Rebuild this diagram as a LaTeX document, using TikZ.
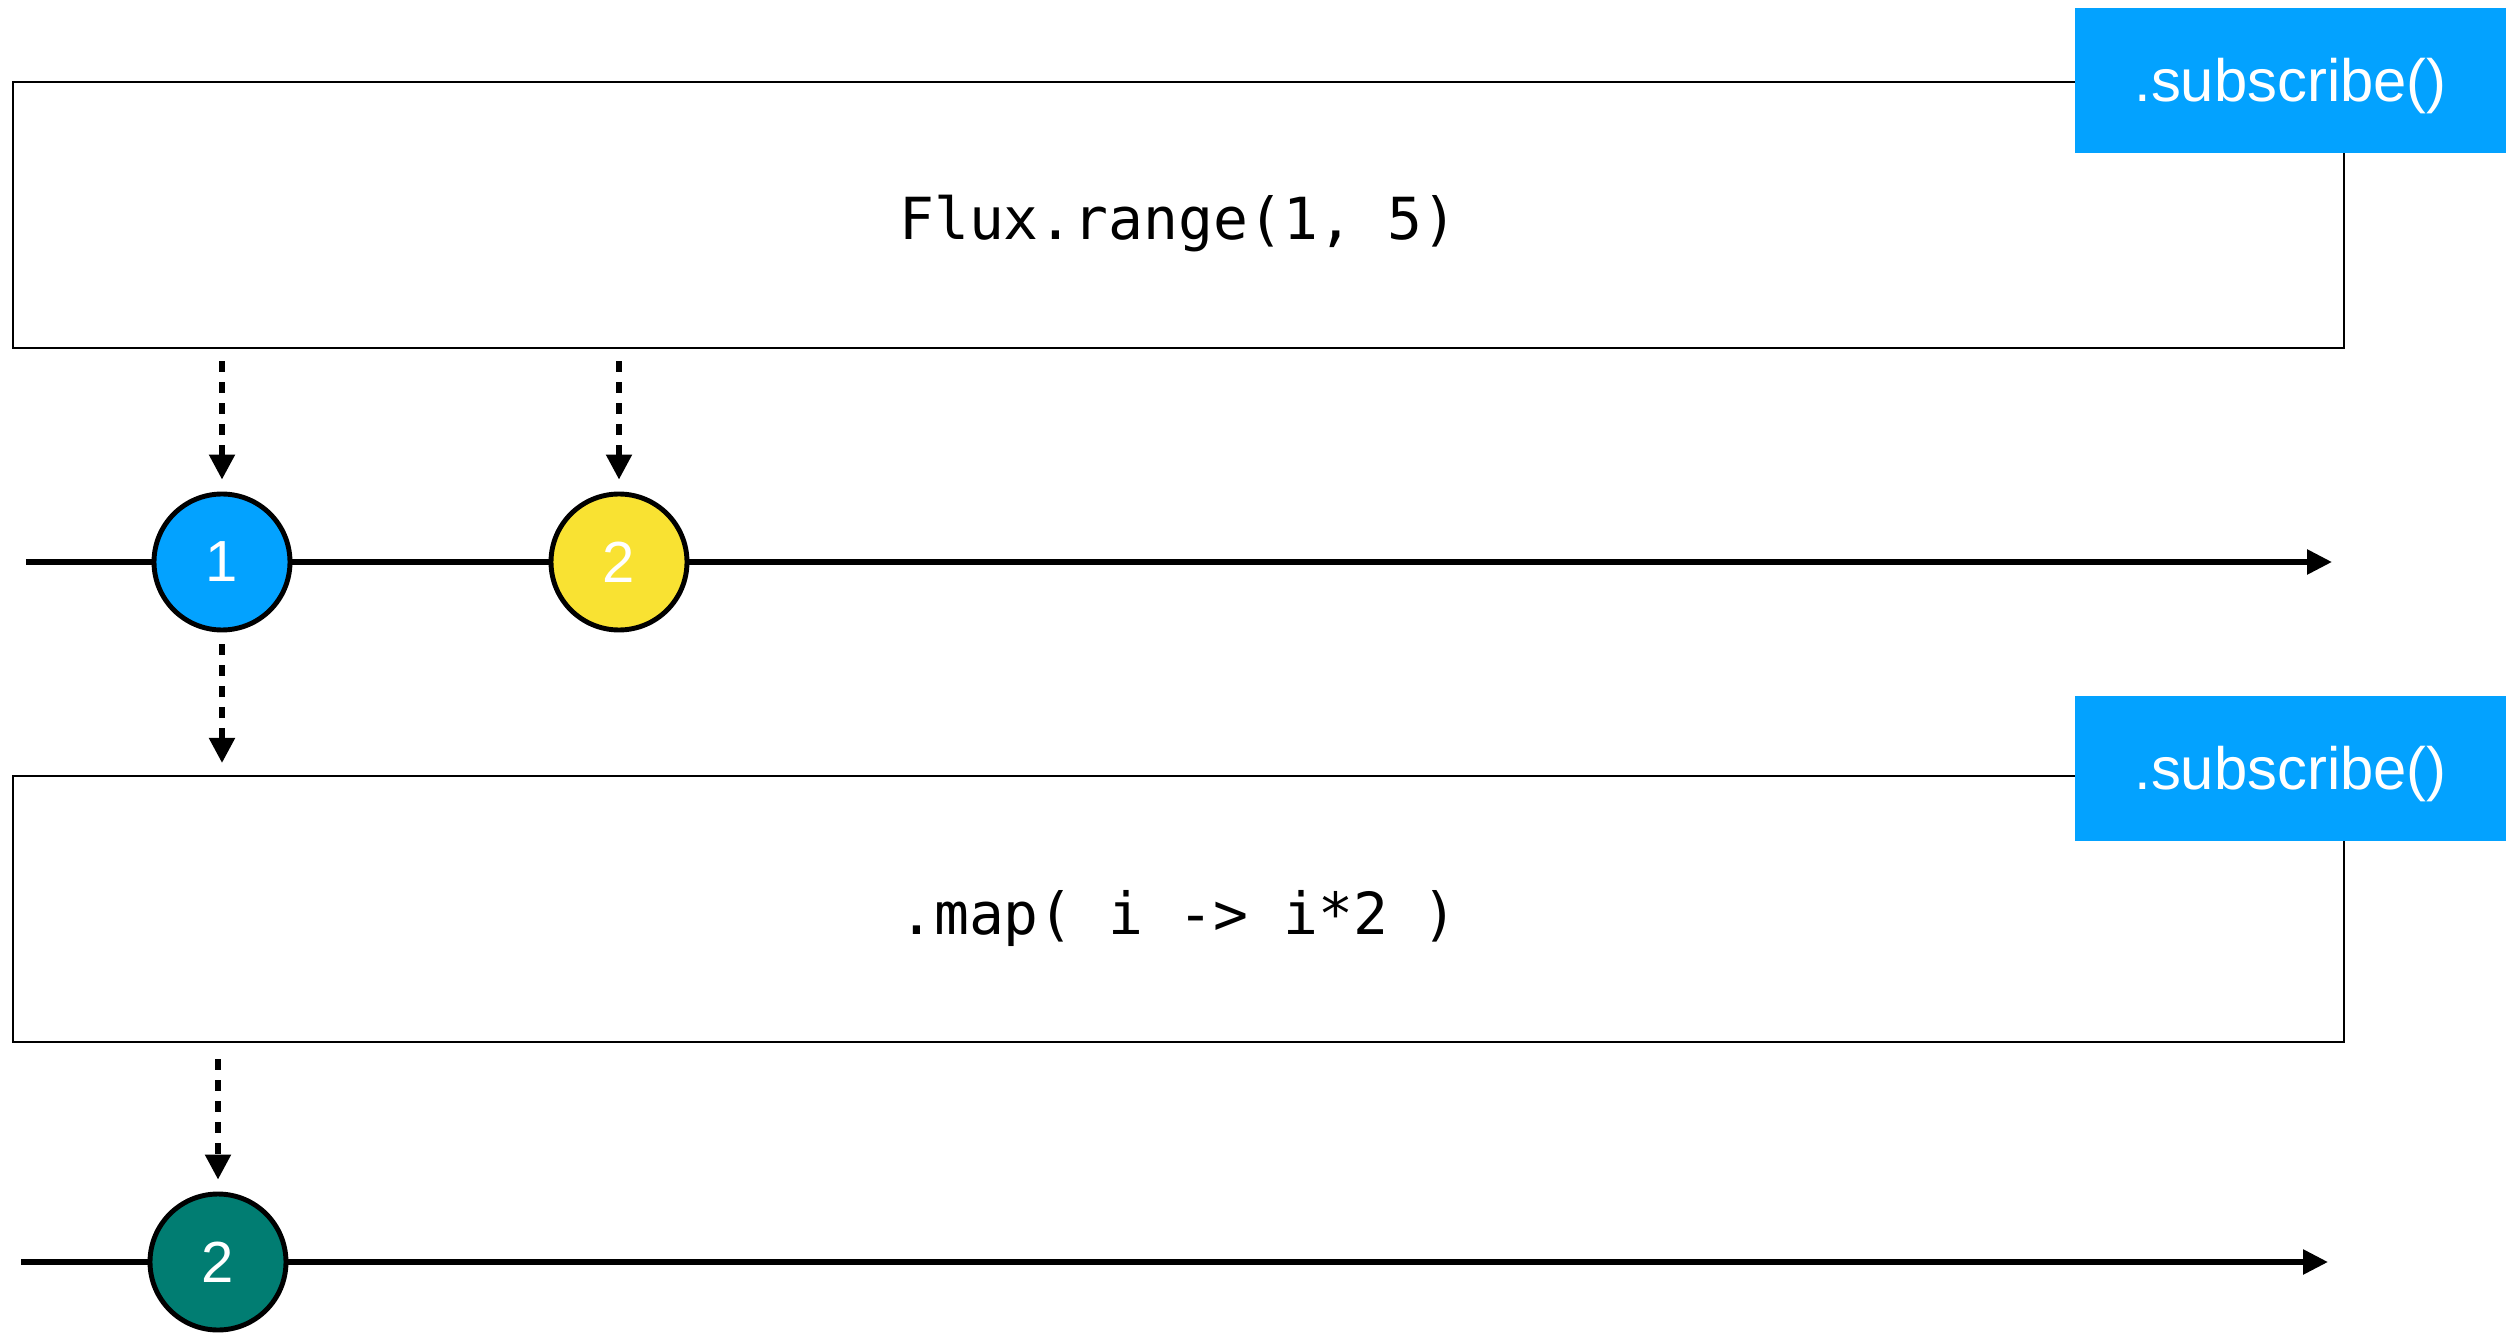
\documentclass[tikz,border=0pt]{standalone}
\usepackage{fontspec}
\setmainfont{Liberation Sans}
\setmonofont{DejaVu Sans Mono}
\usetikzlibrary{arrows.meta}
\definecolor{marbleblue}{RGB}{3,162,255}
\definecolor{marbleyellow}{RGB}{249,226,50}
\definecolor{marbleteal}{RGB}{1,125,114}

\begin{document}
\begin{tikzpicture}[
		opbox/.style={draw, line width=0.6pt, minimum width=23.31cm, minimum height=2.66cm, inner sep=0pt, text height=0.6cm, text depth=0.1cm, font=\ttfamily\fontsize{16.5}{20}\selectfont},
		subbox/.style={fill=marbleblue, text=white, minimum width=4.31cm, minimum height=1.45cm, inner sep=0pt, text height=0.53cm, text depth=0.1cm, font=\fontsize{17}{20}\selectfont},
		marble/.style={circle, draw, line width=1.4pt, minimum size=1.36cm, inner sep=0pt, text=white, font=\fontsize{16.5}{20}\selectfont},
		timeline/.style={line width=1.6pt, -{Triangle[width=0.24cm,length=0.25cm]}},
		flow/.style={line width=1.5pt, dash pattern=on 0.11cm off 0.10cm, -{Triangle[width=0.25cm,length=0.25cm]}, shorten <=0.12cm, shorten >=0.12cm}
	]
		\useasboundingbox (0,0) rectangle (25.06,13.33);
		% operators
		\node [opbox] (range) at (11.785,11.18) {Flux.range(1, 5)};
		\node [opbox] (map) at (11.785,4.24) {.map( i -> i*2 )};
		\node [subbox] (sub1) at (22.905,12.525) {.subscribe()};
		\node [subbox] (sub2) at (22.905,5.65) {.subscribe()};
		% timelines
		\coordinate (t1a) at (0.26,7.71);
		\coordinate (t1b) at (23.32,7.71);
		\coordinate (t2a) at (0.21,0.71);
		\coordinate (t2b) at (23.28,0.71);
		\draw [timeline] (t1a) -- (t1b);
		\draw [timeline] (t2a) -- (t2b);
		% marbles
		\node [marble, fill=marbleblue] (m1) at (2.22,7.71) {1};
		\node [marble, fill=marbleyellow] (m2) at (6.19,7.71) {2};
		\node [marble, fill=marbleteal] (m3) at (2.18,0.71) {2};
		% emissions
		\draw [flow] (range.south -| m1) -- (m1);
		\draw [flow] (range.south -| m2) -- (m2);
		\draw [flow] (m1) -- (map.north -| m1);
		\draw [flow, shorten <=0.16cm] (map.south -| m3) -- (m3);
	\end{tikzpicture}
\end{document}
